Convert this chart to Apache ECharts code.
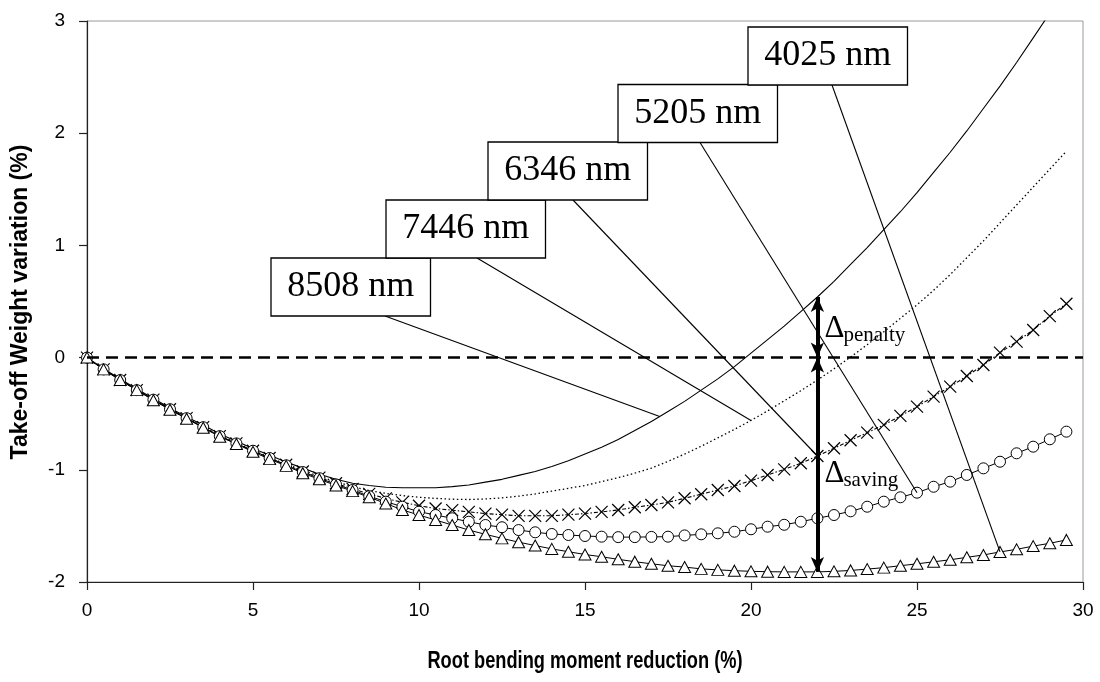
<!DOCTYPE html>
<html>
<head>
<meta charset="utf-8">
<script src="https://cdn.jsdelivr.net/npm/echarts@6/dist/echarts.min.js"></script>
<style>
  html, body { margin: 0; padding: 0; background: #fff; }
  #chart { width: 1100px; height: 682px; }
</style>
</head>
<body>
<div id="chart"></div>
<script>
// Root bending moment reduction (%) sampled every 0.5 %
const xs = [0, 0.5, 1, 1.5, 2, 2.5, 3, 3.5, 4, 4.5, 5, 5.5, 6, 6.5, 7, 7.5, 8, 8.5, 9, 9.5,
  10, 10.5, 11, 11.5, 12, 12.5, 13, 13.5, 14, 14.5, 15, 15.5, 16, 16.5, 17, 17.5, 18, 18.5, 19, 19.5,
  20, 20.5, 21, 21.5, 22, 22.5, 23, 23.5, 24, 24.5, 25, 25.5, 26, 26.5, 27, 27.5, 28, 28.5, 29, 29.5];

// Take-off weight variation (%) for each range
const wl8508 = [0, -0.1, -0.19, -0.28, -0.365, -0.45, -0.53, -0.6, -0.68, -0.745, -0.81, -0.87, -0.93, -0.985, -1.04, -1.085, -1.12, -1.14, -1.155, -1.16,
  -1.16, -1.16, -1.15, -1.135, -1.11, -1.085, -1.05, -1.015, -0.97, -0.92, -0.86, -0.8, -0.73, -0.65, -0.57, -0.48, -0.39, -0.29, -0.19, -0.08,
  0.04, 0.16, 0.28, 0.41, 0.54, 0.68, 0.83, 0.98, 1.14, 1.3, 1.47, 1.65, 1.83, 2.02, 2.22, 2.42, 2.63, 2.85, 3.07, 3.3];
const wl7446 = [0, -0.105, -0.2, -0.29, -0.375, -0.46, -0.54, -0.615, -0.695, -0.76, -0.825, -0.89, -0.95, -1.005, -1.06, -1.105, -1.15, -1.185, -1.21, -1.23,
  -1.245, -1.255, -1.262, -1.265, -1.26, -1.25, -1.235, -1.215, -1.19, -1.165, -1.14, -1.105, -1.07, -1.03, -0.985, -0.925, -0.86, -0.79, -0.715, -0.64,
  -0.56, -0.475, -0.385, -0.295, -0.2, -0.1, 0.005, 0.115, 0.23, 0.35, 0.47, 0.6, 0.74, 0.89, 1.04, 1.2, 1.36, 1.52, 1.68, 1.84];
const wl6346 = [0, -0.105, -0.2, -0.29, -0.375, -0.46, -0.54, -0.62, -0.7, -0.765, -0.83, -0.895, -0.955, -1.015, -1.07, -1.12, -1.17, -1.215, -1.255, -1.29,
  -1.32, -1.345, -1.36, -1.375, -1.39, -1.4, -1.41, -1.41, -1.41, -1.4, -1.39, -1.375, -1.358, -1.334, -1.314, -1.29, -1.254, -1.218, -1.18, -1.144,
  -1.097, -1.046, -0.996, -0.942, -0.877, -0.808, -0.737, -0.669, -0.6, -0.52, -0.437, -0.348, -0.259, -0.164, -0.066, 0.044, 0.142, 0.246, 0.37, 0.48];
const wl5205 = [0, -0.105, -0.2, -0.29, -0.375, -0.46, -0.54, -0.62, -0.7, -0.765, -0.83, -0.895, -0.96, -1.02, -1.075, -1.13, -1.18, -1.235, -1.284, -1.329,
  -1.373, -1.403, -1.432, -1.463, -1.492, -1.512, -1.537, -1.557, -1.572, -1.581, -1.59, -1.596, -1.6, -1.6, -1.598, -1.596, -1.585, -1.575, -1.566, -1.552,
  -1.53, -1.507, -1.49, -1.463, -1.432, -1.403, -1.37, -1.329, -1.284, -1.245, -1.204, -1.151, -1.106, -1.046, -0.987, -0.928, -0.853, -0.794, -0.728, -0.66];
const wl4025 = [0, -0.105, -0.2, -0.29, -0.38, -0.465, -0.545, -0.625, -0.705, -0.77, -0.84, -0.905, -0.965, -1.03, -1.085, -1.14, -1.19, -1.245, -1.3, -1.358,
  -1.403, -1.448, -1.492, -1.537, -1.575, -1.611, -1.645, -1.675, -1.705, -1.73, -1.755, -1.775, -1.798, -1.819, -1.838, -1.855, -1.867, -1.883, -1.892, -1.899,
  -1.905, -1.908, -1.91, -1.91, -1.91, -1.905, -1.897, -1.885, -1.872, -1.855, -1.838, -1.82, -1.802, -1.78, -1.759, -1.732, -1.709, -1.68, -1.655, -1.625];

// Callout names and the reduction (%) each callout points at
const calloutNames = ['8508 nm', '7446 nm', '6346 nm', '5205 nm', '4025 nm'];
const calloutAt = [17.25, 20, 22, 25, 27.5];
// Reduction (%) where the penalty / saving arrows are drawn
const deltaAt = 22;

const xAxisTitle = 'Root bending moment reduction (%)';
const yAxisTitle = 'Take-off Weight variation (%)';

// ---------- layout & styling ----------
const SANS = "'Liberation Sans', Arial, sans-serif";
const SERIF = "'Liberation Serif', 'Times New Roman', serif";
const BOX_W = 159.5, BOX_H = 58;
const boxLayout = [
  { left: 271, top: 258, anchor: 114 },
  { left: 386, top: 200, anchor: 91 },
  { left: 488, top: 142, anchor: 85 },
  { left: 618, top: 84.5, anchor: 82 },
  { left: 748, top: 27, anchor: 84 }
];

const calloutSeries = [wl8508, wl7446, wl6346, wl5205, wl4025];

function pairs(ys) { return xs.map((x, i) => [x, ys[i]]); }
function valueAt(ys, x) {
  for (let i = 0; i < xs.length - 1; i++) {
    if (x >= xs[i] && x <= xs[i + 1]) {
      const t = (x - xs[i]) / (xs[i + 1] - xs[i]);
      return ys[i] + t * (ys[i + 1] - ys[i]);
    }
  }
  return ys[ys.length - 1];
}
const idxDelta = xs.indexOf(deltaAt);
const penaltyTop = wl8508[idxDelta];
const savingBottom = wl4025[idxDelta];

const crossSymbol = 'path://M0,0L10,10M10,0L0,10';
const black = '#000';
const arrowLine = { color: black, width: 4, type: 'solid' };

const chart = echarts.init(document.getElementById('chart'), null, { renderer: 'canvas' });

const option = {
  animation: false,
  backgroundColor: '#fff',
  grid: {
    left: 87, right: 17, top: 21, bottom: 100,
    show: true, borderColor: '#9a9a9a', borderWidth: 1, backgroundColor: 'transparent'
  },
  xAxis: {
    type: 'value', min: 0, max: 30, interval: 5,
    axisLine: { onZero: false, lineStyle: { color: '#222', width: 1.2 } },
    axisTick: { show: true, inside: false, length: 8, lineStyle: { color: '#222', width: 1.2 } },
    axisLabel: { fontSize: 19, fontFamily: SANS, color: black, margin: 19 },
    splitLine: { show: false }
  },
  yAxis: {
    type: 'value', min: -2, max: 3, interval: 1,
    axisLine: { show: true, onZero: false, lineStyle: { color: '#222', width: 1.2 } },
    axisTick: { show: true, inside: false, length: 8, lineStyle: { color: '#222', width: 1.2 } },
    axisLabel: { fontSize: 19, fontFamily: SANS, color: black, margin: 22 },
    splitLine: { show: false }
  },
  series: [
    {
      name: '8508 nm', type: 'line', data: pairs(wl8508), symbol: 'none',
      lineStyle: { color: black, width: 1.1 }, z: 3, silent: true
    },
    {
      name: '7446 nm', type: 'line', data: pairs(wl7446), symbol: 'none',
      lineStyle: { color: black, width: 1.3, type: [1.5, 2.6] }, z: 3, silent: true
    },
    {
      name: '6346 nm', type: 'line', data: pairs(wl6346),
      symbol: crossSymbol, symbolSize: 12,
      itemStyle: { color: 'rgba(0,0,0,0)', borderColor: black, borderWidth: 1.2 },
      lineStyle: { color: black, width: 1.1, type: [4, 2, 1.5, 2] }, z: 4, silent: true
    },
    {
      name: '5205 nm', type: 'line', data: pairs(wl5205),
      symbol: 'circle', symbolSize: 11,
      itemStyle: { color: '#fff', borderColor: black, borderWidth: 1 },
      lineStyle: { color: black, width: 1 }, z: 4, silent: true
    },
    {
      name: '4025 nm', type: 'line', data: pairs(wl4025),
      symbol: 'triangle', symbolSize: [12, 11],
      itemStyle: { color: '#fff', borderColor: black, borderWidth: 1 },
      lineStyle: { color: black, width: 1 }, z: 4, silent: true
    },
    {
      // dashed zero reference line
      name: 'zero', type: 'line', data: [], silent: true, z: 5,
      markLine: {
        silent: true, animation: false, symbol: ['none', 'none'],
        label: { show: false },
        emphasis: { disabled: true },
        lineStyle: { color: black, width: 2.6, type: [12, 7] },
        data: [{ yAxis: 0 }]
      }
    },
    {
      // penalty / saving double arrows
      name: 'delta', type: 'line', data: [], silent: true, z: 6,
      markLine: {
        silent: true, animation: false, symbol: ['arrow', 'arrow'], symbolSize: [10, 15],
        label: { show: false },
        emphasis: { disabled: true },
        lineStyle: arrowLine,
        data: [
          [{ coord: [deltaAt, 0] }, { coord: [deltaAt, penaltyTop] }],
          [{ coord: [deltaAt, 0] }, { coord: [deltaAt, savingBottom] }]
        ]
      }
    }
  ]
};
chart.setOption(option);

// ---------- callouts, delta labels and axis titles ----------
const toPx = (x, y) => chart.convertToPixel({ gridIndex: 0 }, [x, y]);
const elements = [];

calloutNames.forEach((name, i) => {
  const b = boxLayout[i];
  const target = toPx(calloutAt[i], valueAt(calloutSeries[i], calloutAt[i]));
  elements.push({
    type: 'line', silent: true, z: 50,
    shape: { x1: b.left + b.anchor, y1: b.top + BOX_H, x2: target[0], y2: target[1] },
    style: { stroke: black, lineWidth: 1.1 }
  });
});
calloutNames.forEach((name, i) => {
  const b = boxLayout[i];
  elements.push({
    type: 'rect', silent: true, z: 60,
    shape: { x: b.left, y: b.top, width: BOX_W, height: BOX_H },
    style: { fill: '#fff', stroke: black, lineWidth: 1.3 }
  });
  elements.push({
    type: 'text', silent: true, z: 61,
    x: b.left + BOX_W / 2, y: b.top + BOX_H / 2,
    style: { text: name, fontSize: 36, fontFamily: SERIF, fill: black, align: 'center', verticalAlign: 'middle' }
  });
});

const p0 = toPx(deltaAt, 0);
const deltaLabels = [
  { big: 'Δ', small: 'penalty', dyBig: -29, dySmall: -22 },
  { big: 'Δ', small: 'saving', dyBig: 116, dySmall: 123 }
];
deltaLabels.forEach(d => {
  elements.push({
    type: 'text', silent: true, z: 70, x: p0[0] + 7, y: p0[1] + d.dyBig,
    style: { text: d.big, fontSize: 31, fontFamily: SERIF, fill: black, align: 'left', verticalAlign: 'middle' }
  });
  elements.push({
    type: 'text', silent: true, z: 70, x: p0[0] + 26, y: p0[1] + d.dySmall,
    style: { text: d.small, fontSize: 21, fontFamily: SERIF, fill: black, align: 'left', verticalAlign: 'middle' }
  });
});

elements.push({
  type: 'text', silent: true, z: 70, x: 585, y: 661, scaleX: 0.76,
  style: { text: xAxisTitle, fontSize: 24, fontWeight: 'bold', fontFamily: SANS, fill: black, align: 'center', verticalAlign: 'middle' }
});
elements.push({
  type: 'text', silent: true, z: 70, x: 21, y: 302, rotation: Math.PI / 2,
  style: { text: yAxisTitle, fontSize: 23, fontWeight: 'bold', fontFamily: SANS, fill: black, align: 'center', verticalAlign: 'middle' }
});

chart.setOption({ graphic: { elements } });
</script>
</body>
</html>
